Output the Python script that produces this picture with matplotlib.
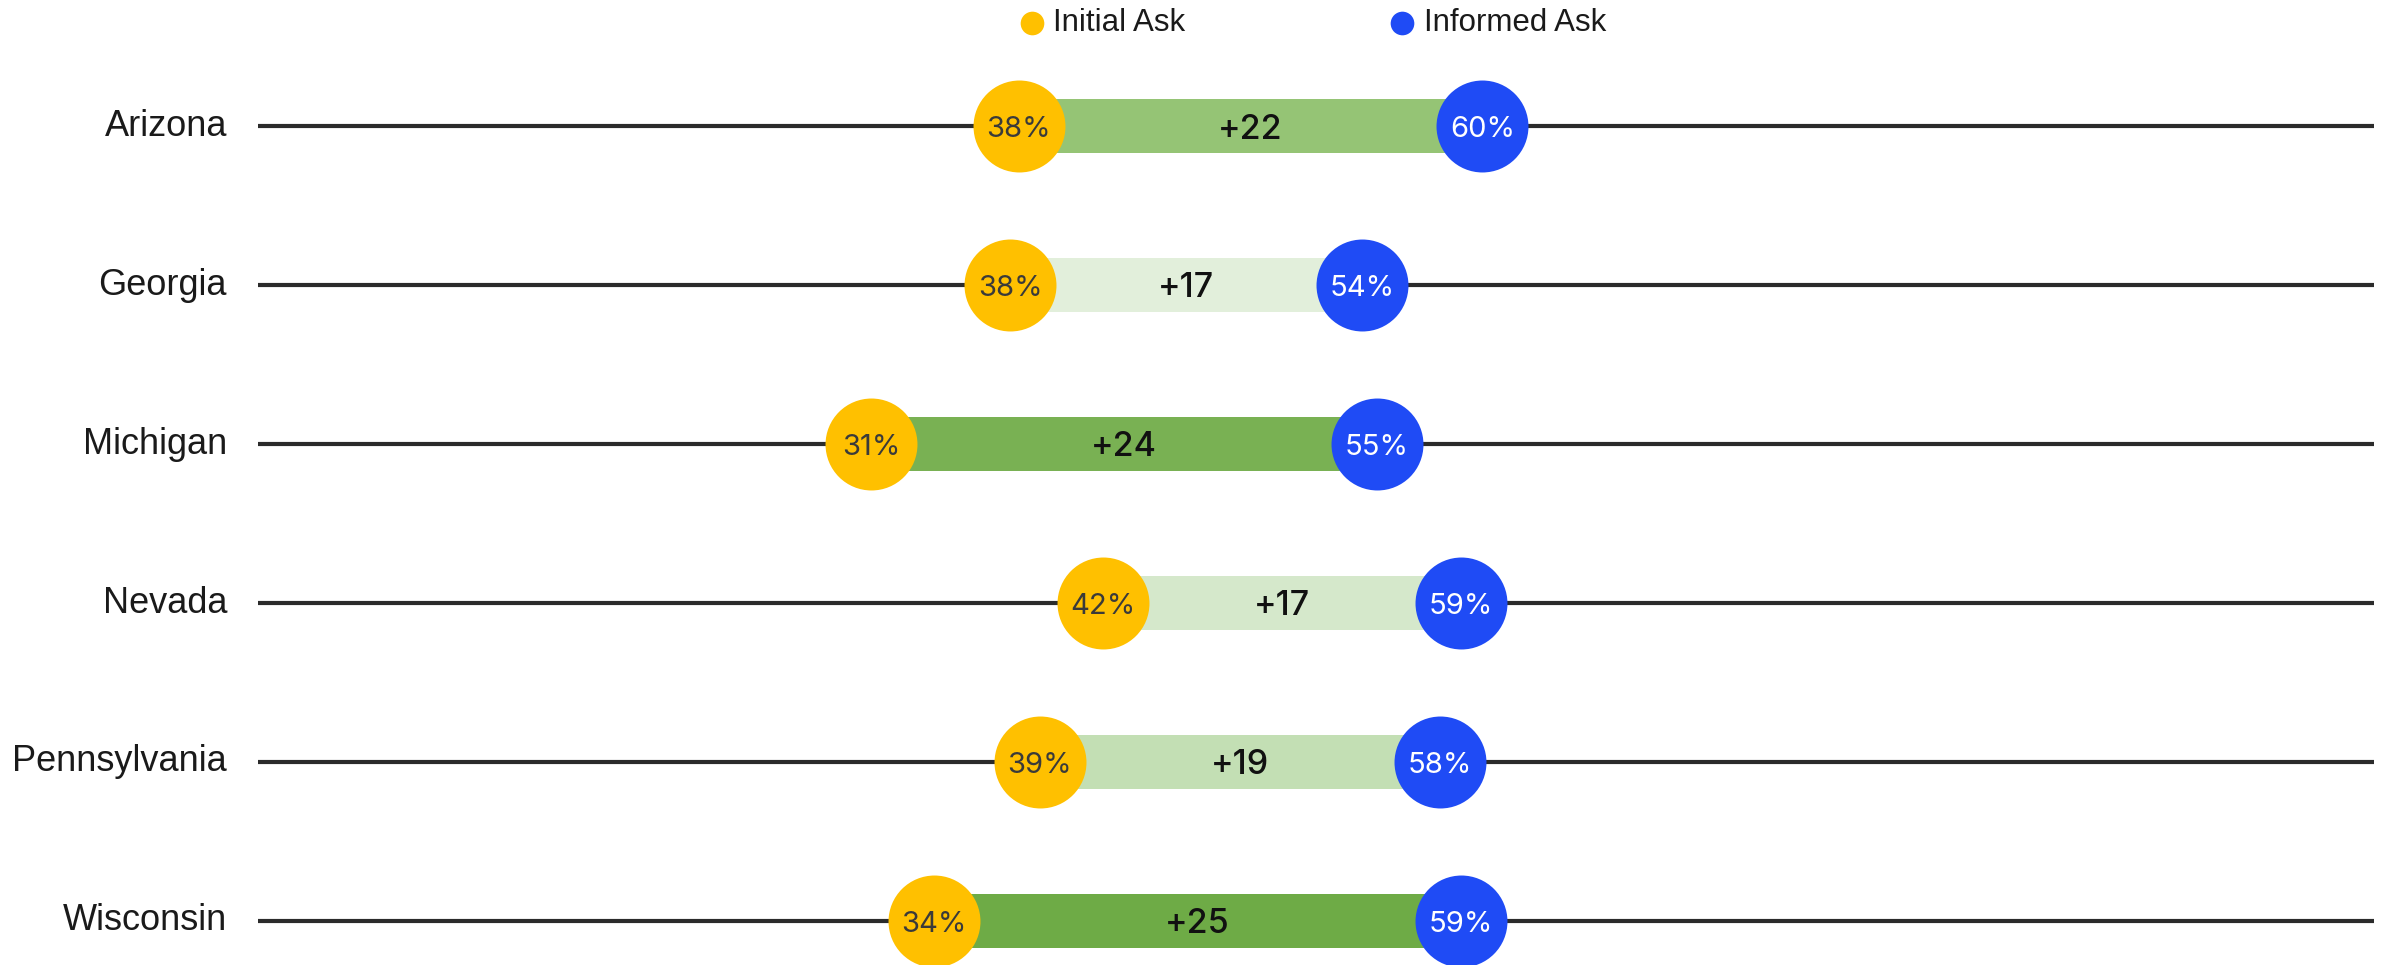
import matplotlib
matplotlib.use("Agg")
import matplotlib.pyplot as plt

states = ['Arizona', 'Georgia', 'Michigan', 'Nevada', 'Pennsylvania', 'Wisconsin']
initial_ask = [38, 37.6, 31, 42, 39, 34]
informed_ask = [60, 54.3, 55, 59, 58, 59]
bar_colors = ['#95c475', '#e2efdb', '#79b153', '#d5e8cb', '#c3dfb4', '#6eab46']

YELLOW = '#ffc000'
BLUE = '#1f4bf5'

fig = plt.figure(figsize=(23.86, 9.65), dpi=100)
ax = fig.add_axes([0, 0, 1, 1])
ax.set_xlim(-10.32, 102.87)
ax.set_ylim(5.278, -0.795)
ax.axis('off')

rows = list(range(len(states)))

# baseline for every state
ax.hlines(rows, 1.9, 102.3, color='#2b2b2b', linewidth=3, zorder=1)

# gap bars
for i in rows:
    ax.barh(i, informed_ask[i] - initial_ask[i], left=initial_ask[i], height=0.34,
            color=bar_colors[i], zorder=2)
    mid = (initial_ask[i] + initial_ask[i] + (informed_ask[i] - initial_ask[i])) / 2
    gain = round(informed_ask[i] - initial_ask[i])
    ax.text(mid, i + 0.02, f'+{gain}', ha='center', va='center', fontsize=24.5,
            family='Inter', weight='medium', color='#111111', zorder=4)

ax.scatter(initial_ask, rows, s=4384, color=YELLOW, zorder=3, linewidths=0)
ax.scatter(informed_ask, rows, s=4384, color=BLUE, zorder=3, linewidths=0)

for i in rows:
    ax.text(initial_ask[i], i + 0.02, f'{round(initial_ask[i])}%', ha='center', va='center',
            fontsize=21, family='Inter', color='#3a3a3a', zorder=4)
    ax.text(informed_ask[i], i + 0.02, f'{round(informed_ask[i])}%', ha='center', va='center',
            fontsize=21, family='Inter', color='white', zorder=4)
    ax.text(0.45, i, states[i], ha='right', va='center', fontsize=26,
            family='Liberation Sans', color='#1a1a1a')

# legend
lx = [0.4325, 0.5878]
ly = 0.976
for x, c, lab in zip(lx, [YELLOW, BLUE], ['Initial Ask', 'Informed Ask']):
    ax.scatter([x], [ly], s=290, color=c, linewidths=0, transform=fig.transFigure,
               clip_on=False, zorder=5)
    fig.text(x + 0.009, ly, lab, ha='left', va='center', fontsize=22.5,
             family='Liberation Sans', color='#1a1a1a')

fig.savefig('out.png', dpi=100)
